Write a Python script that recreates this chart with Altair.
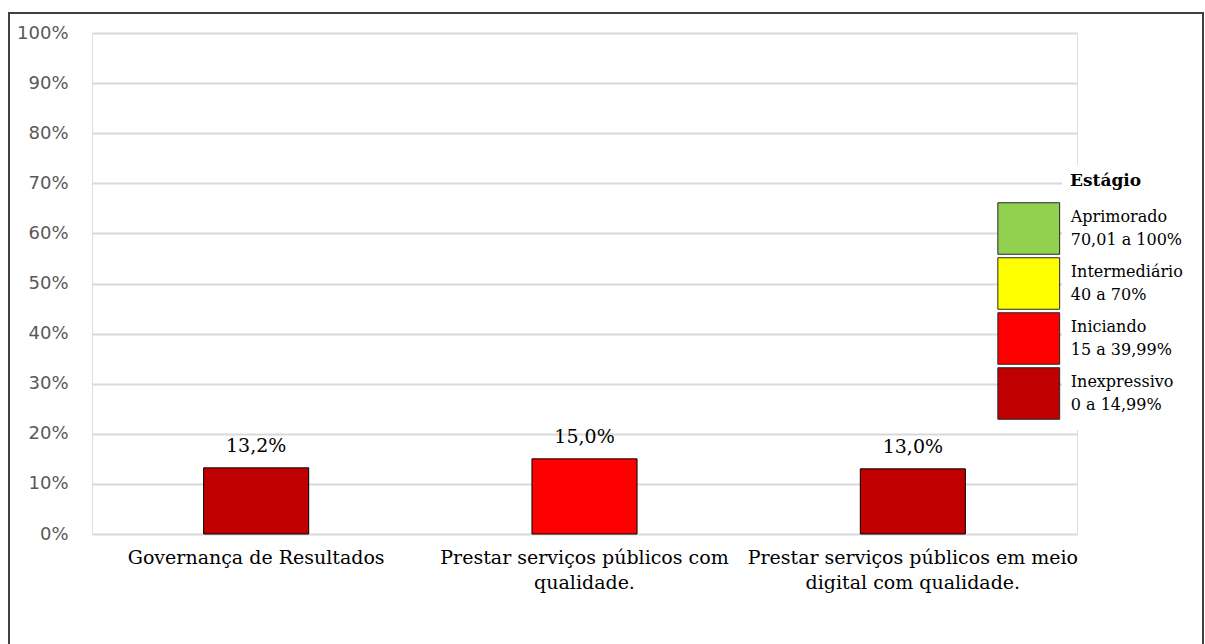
import json

import altair as alt
import pandas as pd

# Bar chart: results per axis, coloured by maturity stage
categories = [
    "Governança de Resultados",
    "Prestar serviços públicos com\nqualidade.",
    "Prestar serviços públicos em meio\ndigital com qualidade.",
]
values = [0.132, 0.150, 0.130]
bar_stages = ["Inexpressivo", "Iniciando", "Inexpressivo"]

# Stage legend (top to bottom) with its ranges and colours
stages = ["Aprimorado", "Intermediário", "Iniciando", "Inexpressivo"]
stage_ranges = ["70,01 a 100%", "40 a 70%", "15 a 39,99%", "0 a 14,99%"]
stage_colors = ["#92D050", "#FFFF00", "#FF0000", "#C00000"]

y_ticks = [i / 10 for i in range(11)]

df = pd.DataFrame({"categoria": categories, "valor": values, "estagio": bar_stages})

# Two-line legend labels: stage name + range
label_expr = "datum.label"
for name, rng in zip(reversed(stages), reversed(stage_ranges)):
    label_expr = (
        f"datum.label == {json.dumps(name)} ? [{json.dumps(name)}, {json.dumps(rng)}] : ({label_expr})"
    )

serif = "DejaVu Serif"

base = alt.Chart(df)

x_enc = alt.X(
    "categoria:N",
    sort=categories,
    title=None,
    scale=alt.Scale(paddingInner=0.68, paddingOuter=0.34),
    axis=alt.Axis(
        labelAngle=0,
        labelFont=serif,
        labelFontSize=19,
        labelColor="#000000",
        labelPadding=14,
        labelBaseline="top",
        labelLineHeight=25,
        labelLimit=0,
        labelExpr="split(datum.label, '\\n')",
        domain=False,
        ticks=False,
        grid=False,
    ),
)

y_enc = alt.Y(
    "valor:Q",
    title=None,
    scale=alt.Scale(domain=[0, 1], nice=False),
    axis=alt.Axis(
        values=y_ticks,
        format=".0%",
        labelFont="DejaVu Sans",
        labelFontSize=18,
        labelColor="#595959",
        labelPadding=24,
        domain=False,
        ticks=False,
        grid=True,
        gridColor="#D9D9D9",
        gridWidth=2,
    ),
)

bars = base.mark_bar(stroke="#000000", strokeWidth=1).encode(
    x=x_enc,
    y=y_enc,
    fill=alt.Fill(
        "estagio:N",
        scale=alt.Scale(domain=stages, range=stage_colors),
        legend=alt.Legend(
            title="Estágio",
            orient="none",
            legendX=970,
            legendY=132,
            padding=8,
            fillColor="#FFFFFF",
            titleFont=serif,
            titleFontSize=17,
            titleFontWeight="bold",
            titleColor="#000000",
            titlePadding=12,
            symbolType="M-1.2,-1H1.2V1H-1.2Z",
            symbolSize=2652,
            symbolOffset=alt.ExprRef("-67.75"),
            symbolStrokeColor="#262626",
            symbolStrokeWidth=1,
            symbolOpacity=1,
            rowPadding=alt.ExprRef("-4.5"),
            labelOffset=15.5,
            labelBaseline="line-bottom",
            labelFont=serif,
            labelFontSize=16,
            labelColor="#000000",
            labelLimit=0,
            labelExpr=label_expr,
        ),
    ),
)

labels = base.transform_calculate(
    rotulo="replace(format(datum.valor * 100, '.1f'), '.', ',') + '%'"
).mark_text(
    font=serif, fontSize=19, color="#000000", baseline="alphabetic", dy=-16
).encode(
    x=alt.X("categoria:N", sort=categories),
    y=alt.Y("valor:Q"),
    text="rotulo:N",
)

frame = alt.Chart(alt.Data(values=[{}])).mark_rect(
    filled=False, stroke="#404040", strokeWidth=2
).encode(
    x=alt.value(-83), x2=alt.value(1111), y=alt.value(-20), y2=alt.value(720)
)

chart = (
    alt.layer(bars, labels, frame)
    .properties(
        width=985,
        height=501,
        autosize=alt.AutoSizeParams(type="none"),
        padding={"left": 92, "top": 33, "right": 128, "bottom": 110},
        background="#FFFFFF",
    )
    .configure_view(stroke=None)
    .configure(style={"guide-label": {"lineHeight": 23}})
)

chart.save("out.html", embed_options={"renderer": "svg", "actions": False})
